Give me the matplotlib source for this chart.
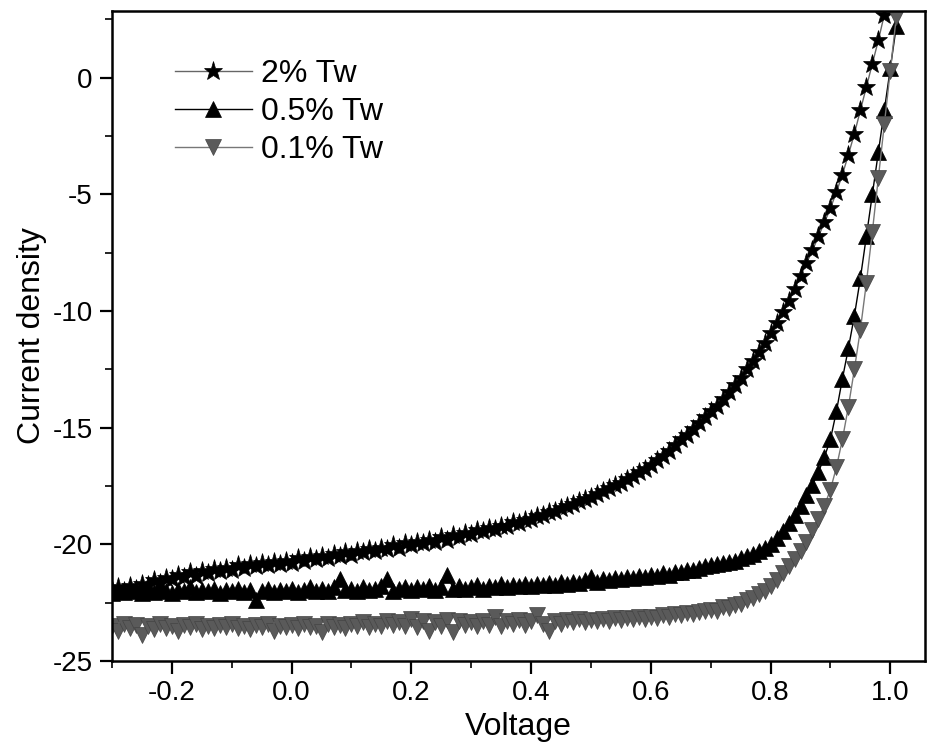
import matplotlib
matplotlib.use('Agg')
import matplotlib.pyplot as plt
from matplotlib.ticker import MultipleLocator

plt.rcParams['font.family'] = ['Liberation Sans', 'DejaVu Sans']

# Voltage sweep (V), same grid for the three films
voltage = [
    -0.30, -0.29, -0.28, -0.27, -0.26, -0.25, -0.24, -0.23, -0.22, -0.21,
    -0.20, -0.19, -0.18, -0.17, -0.16, -0.15, -0.14, -0.13, -0.12, -0.11,
    -0.10, -0.09, -0.08, -0.07, -0.06, -0.05, -0.04, -0.03, -0.02, -0.01,
    0.00, 0.01, 0.02, 0.03, 0.04, 0.05, 0.06, 0.07, 0.08, 0.09,
    0.10, 0.11, 0.12, 0.13, 0.14, 0.15, 0.16, 0.17, 0.18, 0.19,
    0.20, 0.21, 0.22, 0.23, 0.24, 0.25, 0.26, 0.27, 0.28, 0.29,
    0.30, 0.31, 0.32, 0.33, 0.34, 0.35, 0.36, 0.37, 0.38, 0.39,
    0.40, 0.41, 0.42, 0.43, 0.44, 0.45, 0.46, 0.47, 0.48, 0.49,
    0.50, 0.51, 0.52, 0.53, 0.54, 0.55, 0.56, 0.57, 0.58, 0.59,
    0.60, 0.61, 0.62, 0.63, 0.64, 0.65, 0.66, 0.67, 0.68, 0.69,
    0.70, 0.71, 0.72, 0.73, 0.74, 0.75, 0.76, 0.77, 0.78, 0.79,
    0.80, 0.81, 0.82, 0.83, 0.84, 0.85, 0.86, 0.87, 0.88, 0.89,
    0.90, 0.91, 0.92, 0.93, 0.94, 0.95, 0.96, 0.97, 0.98, 0.99,
    1.00, 1.01,
]

# 2% Tw
j_2 = [
    -21.95, -21.85, -22.0, -21.8, -21.9, -21.7, -21.75, -21.55, -21.65, -21.45,
    -21.5, -21.3, -21.4, -21.2, -21.35, -21.15, -21.25, -21.05, -21.15, -21.0,
    -21.1, -20.9, -21.0, -20.85, -20.95, -20.8, -20.9, -20.75, -20.85, -20.7,
    -20.8, -20.6, -20.7, -20.55, -20.65, -20.5, -20.6, -20.4, -20.5, -20.35,
    -20.45, -20.3, -20.35, -20.2, -20.3, -20.15, -20.2, -20.05, -20.15, -19.95,
    -20.05, -19.9, -19.95, -19.8, -19.9, -19.7, -19.8, -19.6, -19.7, -19.5,
    -19.55, -19.4, -19.45, -19.3, -19.35, -19.2, -19.2, -19.05, -19.1, -18.95,
    -18.9, -18.8, -18.75, -18.6, -18.55, -18.45, -18.35, -18.25, -18.15, -18.05,
    -17.95, -17.85, -17.7, -17.6, -17.45, -17.35, -17.2, -17.05, -16.9, -16.75,
    -16.6, -16.4, -16.2, -16.0, -15.75, -15.5, -15.3, -15.05, -14.8, -14.55,
    -14.3, -14.05, -13.75, -13.45, -13.15, -12.85, -12.5, -12.15, -11.75, -11.35,
    -10.95, -10.5, -10.05, -9.55, -9.05, -8.5, -7.95, -7.4, -6.8, -6.2,
    -5.6, -4.9, -4.15, -3.3, -2.4, -1.4, -0.4, 0.6, 1.6, 2.7,
    3.8, 4.9,
]

# 0.5% Tw
j_05 = [
    -22.1, -21.95, -22.05, -21.9, -22.0, -22.1, -21.95, -22.05, -21.9, -22.0,
    -22.1, -21.95, -22.0, -21.85, -22.05, -21.95, -22.0, -21.9, -22.1, -21.95,
    -22.0, -21.9, -22.05, -21.95, -22.4, -22.0, -21.9, -22.05, -21.95, -22.0,
    -21.9, -22.05, -21.95, -21.85, -22.0, -21.9, -22.0, -21.85, -21.5, -21.95,
    -21.9, -22.0, -21.85, -21.95, -21.9, -21.8, -21.5, -22.0, -21.9, -21.85,
    -21.95, -21.85, -21.9, -21.8, -21.95, -21.85, -21.3, -21.9, -21.8, -21.9,
    -21.85, -21.75, -21.9, -21.8, -21.85, -21.7, -21.85, -21.75, -21.8, -21.7,
    -21.8, -21.7, -21.75, -21.65, -21.75, -21.6, -21.7, -21.6, -21.65, -21.55,
    -21.4, -21.6, -21.5, -21.55, -21.45, -21.5, -21.4, -21.45, -21.35, -21.4,
    -21.3, -21.35, -21.25, -21.3, -21.2, -21.2, -21.1, -21.1, -21.0, -20.95,
    -20.9, -20.85, -20.8, -20.75, -20.7, -20.6, -20.5, -20.4, -20.3, -20.15,
    -20.0, -19.75, -19.45, -19.1, -18.75, -18.35, -17.9, -17.45, -16.9, -16.25,
    -15.5, -14.3, -12.9, -11.6, -10.2, -8.6, -6.8, -5.0, -3.2, -1.4,
    0.4, 2.2,
]

# 0.1% Tw
j_01 = [
    -23.5, -23.7, -23.4, -23.6, -23.45, -23.9, -23.5, -23.65, -23.4, -23.6,
    -23.5, -23.7, -23.45, -23.55, -23.4, -23.65, -23.5, -23.6, -23.45, -23.55,
    -23.4, -23.6, -23.5, -23.65, -23.45, -23.55, -23.4, -23.7, -23.5, -23.55,
    -23.45, -23.6, -23.4, -23.55, -23.5, -23.75, -23.4, -23.55, -23.45, -23.6,
    -23.4, -23.5, -23.35, -23.55, -23.4, -23.5, -23.3, -23.45, -23.35, -23.5,
    -23.2, -23.55, -23.3, -23.7, -23.35, -23.5, -23.25, -23.75, -23.3, -23.45,
    -23.35, -23.5, -23.3, -23.45, -23.1, -23.5, -23.3, -23.4, -23.25, -23.45,
    -23.3, -23.05, -23.4, -23.7, -23.3, -23.4, -23.25, -23.35, -23.2, -23.35,
    -23.25, -23.3, -23.2, -23.3, -23.15, -23.25, -23.15, -23.2, -23.1, -23.2,
    -23.1, -23.15, -23.05, -23.1, -23.0, -23.05, -22.95, -23.0, -22.9, -22.85,
    -22.8, -22.85, -22.7, -22.75, -22.6, -22.55, -22.4, -22.3, -22.15, -22.0,
    -21.8, -21.55, -21.25, -20.95, -20.65, -20.3, -19.9, -19.4, -18.9, -18.35,
    -17.65, -16.7, -15.5, -14.1, -12.5, -10.8, -8.8, -6.6, -4.3, -2.0,
    0.3, 2.6,
]

fig = plt.figure(figsize=(9.28, 7.53), dpi=100)
ax = fig.add_axes([0.1207, 0.1222, 0.8761, 0.8632])

ax.plot(voltage, j_2, color='#666666', lw=1.0, marker='*', ms=14,
        mfc='black', mec='black', mew=0.5, label='2% Tw')
ax.plot(voltage, j_05, color='black', lw=1.0, marker='^', ms=11,
        mfc='black', mec='black', mew=0.5, label='0.5% Tw')
ax.plot(voltage, j_01, color='#777777', lw=1.0, marker='v', ms=11,
        mfc='#5a5a5a', mec='#444444', mew=0.5, label='0.1% Tw')

ax.set_xlim(-0.3, 1.058)
ax.set_ylim(-25, 2.86)
ax.xaxis.set_minor_locator(MultipleLocator(0.1))
ax.yaxis.set_minor_locator(MultipleLocator(2.5))
ax.set_xticks([-0.2, 0.0, 0.2, 0.4, 0.6, 0.8, 1.0])
ax.set_xticklabels(['-0.2', '0.0', '0.2', '0.4', '0.6', '0.8', '1.0'])
ax.set_yticks([-25, -20, -15, -10, -5, 0])
ax.set_yticklabels(['-25', '-20', '-15', '-10', '-5', '0'])

ax.tick_params(which='major', direction='out', length=9, width=1.6,
               labelsize=20, pad=5)
ax.tick_params(which='minor', direction='out', length=5, width=1.2)
for sp in ax.spines.values():
    sp.set_linewidth(1.8)

ax.set_xlabel('Voltage', fontsize=23, labelpad=4)
ax.set_ylabel('Current density', fontsize=23, labelpad=4)

ax.legend(loc='upper left', bbox_to_anchor=(0.05, 0.96), frameon=False,
          fontsize=23, handlelength=2.4, handletextpad=0.3,
          labelspacing=0.25, borderpad=0.2, markerscale=1.0)

fig.savefig('out.png', dpi=100)
